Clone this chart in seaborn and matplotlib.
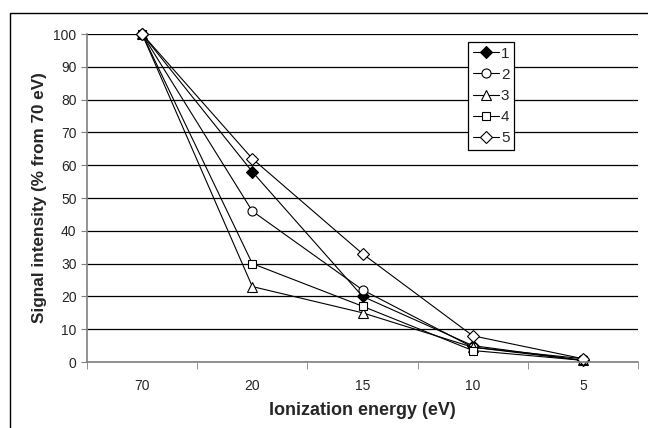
import matplotlib
matplotlib.use('Agg')
import matplotlib.pyplot as plt
import seaborn as sns
import pandas as pd
import numpy as np

# data
energies = ['70', '20', '15', '10', '5']
series_names = ['1', '2', '3', '4', '5']
s1 = [100, 58, 20, 5, 0.5]
s2 = [100, 46, 22, 4.5, 1]
s3 = [100, 23, 15, 4.5, 0.5]
s4 = [100, 30, 17, 3.5, 0.5]
s5 = [100, 62, 33, 8, 1]

sns.set_style('white')
plt.rcParams['font.family'] = ['Liberation Sans', 'DejaVu Sans']

rows = []
for name, vals in zip(series_names, [s1, s2, s3, s4, s5]):
    for i, v in enumerate(vals):
        rows.append({'pos': i, 'energy': energies[i], 'value': v, 'series': name})
df = pd.DataFrame(rows)

fig = plt.figure(figsize=(6.48, 4.28), dpi=100)
ax = fig.add_axes([87 / 648, 1 - 362 / 428, (638 - 87) / 648, (362 - 34) / 428])

# outer chart border
fig.patches.append(plt.Rectangle((10 / 648, -0.1), 1.0, 1 - 13 / 428 + 0.1,
                                 transform=fig.transFigure, fill=False,
                                 edgecolor='black', linewidth=1.0))

styles = {
    '1': dict(marker='D', mfc='black', ms=6),
    '2': dict(marker='o', mfc='white', ms=6.5),
    '3': dict(marker='^', mfc='white', ms=6.5),
    '4': dict(marker='s', mfc='white', ms=6.2),
    '5': dict(marker='D', mfc='white', ms=6),
}

for name in series_names:
    d = df[df['series'] == name]
    st = styles[name]
    sns.lineplot(data=d, x='pos', y='value', ax=ax, color='black', linewidth=0.8,
                 marker=st['marker'], markerfacecolor=st['mfc'], markeredgecolor='black',
                 markersize=st['ms'], markeredgewidth=0.8, label=name)

# markers at 100 and 0 should not be cut by the axes edge
for line in ax.lines:
    line.set_clip_on(False)

ax.set_xlim(-0.5, 4.5)
ax.set_ylim(0, 100)
ax.set_yticks(np.arange(0, 101, 10))
ax.yaxis.grid(True, color='black', linewidth=0.9)
ax.set_axisbelow(True)

ax.set_xticks(range(len(energies)))
ax.set_xticklabels(energies)
ax.set_xticks(np.arange(-0.5, 4.6, 1), minor=True)
ax.tick_params(axis='x', which='major', length=0, pad=12, labelsize=10)
ax.tick_params(axis='x', which='minor', length=5, direction='out', color='#808080', bottom=True)
ax.tick_params(axis='y', length=4, direction='out', color='#808080', left=True, labelsize=10)

for side in ['top', 'right']:
    ax.spines[side].set_visible(False)
for side in ['left', 'bottom']:
    ax.spines[side].set_color('#808080')
    ax.spines[side].set_linewidth(1.2)

ax.set_xlabel('Ionization energy (eV)', fontsize=13, fontweight='bold', labelpad=7)
ax.set_ylabel('Signal intensity (% from 70 eV)', fontsize=12.3, fontweight='bold', labelpad=5)

leg = ax.legend(loc='upper left', bbox_to_anchor=((468 - 87) / 551, 1 - (42 - 34) / 328),
                frameon=True, fancybox=False, edgecolor='black', framealpha=1,
                fontsize=11, handlelength=1.7, handletextpad=0.15, borderpad=0.3,
                labelspacing=0.47, borderaxespad=0)
leg.get_frame().set_linewidth(0.9)

fig.savefig('out.png', dpi=100)
